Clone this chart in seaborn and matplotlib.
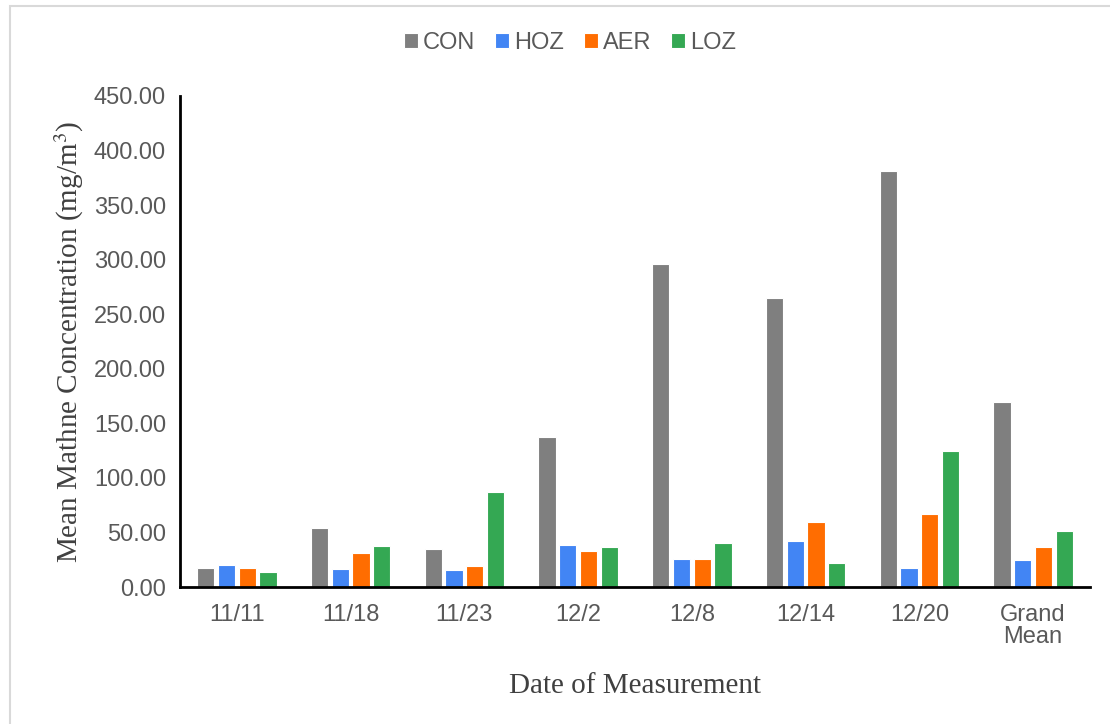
import pandas as pd
import seaborn as sns
import matplotlib.pyplot as plt
from matplotlib.patches import Rectangle

# Values
dates = ['11/11', '11/18', '11/23', '12/2', '12/8', '12/14', '12/20', 'Grand\nMean']
con = [17.4, 54.4, 35.1, 137.2, 296.3, 265.0, 381.7, 169.4]
hoz = [20.5, 16.2, 15.6, 38.3, 25.7, 42.2, 17.4, 25.0]
aer = [17.4, 30.9, 19.3, 33.3, 25.7, 59.6, 67.2, 36.4]
loz = [13.8, 37.3, 86.9, 36.7, 40.4, 21.7, 124.5, 51.7]
groups = ['CON', 'HOZ', 'AER', 'LOZ']
colors = ['#7F7F7F', '#4285F4', '#FF6D01', '#34A853']

df = pd.DataFrame({'date': dates, 'CON': con, 'HOZ': hoz, 'AER': aer, 'LOZ': loz})
df = pd.melt(df, id_vars=['date'], value_vars=groups, var_name='group', value_name='value')

sns.set_style('white')
plt.rcParams['font.family'] = ['Liberation Sans', 'DejaVu Sans']

fig = plt.figure(figsize=(11.1, 7.24), dpi=100)
ax = fig.add_axes([180 / 1110, 1 - 587 / 724, 910 / 1110, 491 / 724])

sns.barplot(data=df, x='date', y='value', hue='group', hue_order=groups,
            palette=colors, width=0.73, gap=0.16, edgecolor='white',
            linewidth=0.8, saturation=1, ax=ax)

ax.set_ylim(0, 450)
ax.set_yticks(range(0, 451, 50))
ax.set_yticklabels([f'{v:.2f}' for v in range(0, 451, 50)])
ax.tick_params(axis='both', labelsize=17, colors='#595959', length=0, pad=10)
ax.tick_params(axis='x', pad=12)
for lab in ax.get_xticklabels():
    lab.set_linespacing(1.0)

for side in ['top', 'right']:
    ax.spines[side].set_visible(False)
for side in ['left', 'bottom']:
    ax.spines[side].set_color('black')
    ax.spines[side].set_linewidth(2)

ax.set_xlabel('Date of Measurement', family='Liberation Serif', fontsize=21,
              color='#404040', labelpad=18)
ax.set_ylabel('Mean Mathne Concentration (mg/m$^3$)', family='Liberation Serif',
              fontsize=21, color='#404040', labelpad=6)
ax.yaxis.label.set_math_fontfamily('stix')

handles, labels = ax.get_legend_handles_labels()
ax.legend(handles, labels, loc='center', bbox_to_anchor=(570 / 1110, 1 - 43 / 724),
          bbox_transform=fig.transFigure, ncol=4, frameon=False, fontsize=17,
          handlelength=0.6, handleheight=0.6, handletextpad=0.2, columnspacing=0.85,
          labelcolor='#595959')

# light frame around the chart area
fig.patches.append(Rectangle((10 / 1110, -0.02), 1.1, 1 - 6 / 724 + 0.02,
                             transform=fig.transFigure, fill=False,
                             edgecolor='#D9D9D9', linewidth=1.5))

fig.savefig('out.png', dpi=100)
